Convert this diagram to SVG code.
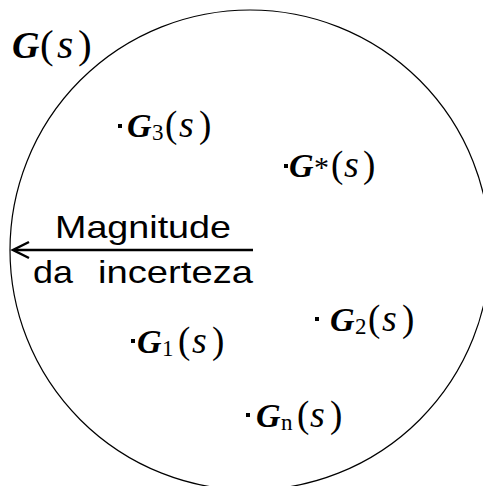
<svg xmlns="http://www.w3.org/2000/svg" width="483" height="486" viewBox="0 0 483 486">
<style>
.m{font-family:"Liberation Serif","DejaVu Serif",serif;font-size:34px;fill:#000}
.g{font-style:italic;font-weight:bold}
.s{font-style:italic;font-size:38px}
.p{font-size:37px}
.sub{font-size:23px}
.lbl{font-family:"Liberation Sans",Arial,sans-serif;font-size:32px;fill:#000}
.dot{fill:#000}
</style>
<rect width="483" height="486" fill="#fff"/>
<g id="set">
<circle cx="250" cy="250" r="240" fill="none" stroke="#000" stroke-width="1.2"/>
<text class="m" y="58" style="font-size:38px"><tspan class="g" x="12">G</tspan><tspan x="40" style="font-size:41px">(</tspan><tspan class="s" x="57" style="font-size:42px">s</tspan><tspan x="78" style="font-size:41px">)</tspan></text>
</g>
<g id="connectors">
<line x1="253" y1="250" x2="14" y2="250" stroke="#000" stroke-width="2.5"/>
<path d="M29,242 L13,250 L29,258" fill="none" stroke="#000" stroke-width="2.5"/>
</g>
<g id="label">
<text class="lbl" x="55" y="238" textLength="176" lengthAdjust="spacingAndGlyphs">Magnitude</text>
<text class="lbl" x="33" y="283" textLength="40" lengthAdjust="spacingAndGlyphs">da</text>
<text class="lbl" x="98" y="283" textLength="155" lengthAdjust="spacingAndGlyphs">incerteza</text>
</g>
<g id="G3">
<rect class="dot" x="118" y="124" width="4" height="4"/>
<text class="m" y="137"><tspan class="g" x="127">G</tspan><tspan class="sub" x="152" dy="3">3</tspan><tspan class="p" x="165" dy="-3">(</tspan><tspan class="s" x="179">s</tspan><tspan class="p" x="199">)</tspan></text>
</g>
<g id="Gstar">
<rect class="dot" x="284" y="164" width="4" height="4"/>
<text class="m" y="177"><tspan class="g" x="289">G</tspan><tspan x="314" style="font-size:30px">*</tspan><tspan class="p" x="331">(</tspan><tspan class="s" x="344">s</tspan><tspan class="p" x="363">)</tspan></text>
</g>
<g id="G2">
<rect class="dot" x="315" y="317" width="4" height="4"/>
<text class="m" y="331"><tspan class="g" x="330">G</tspan><tspan class="sub" x="355" dy="3">2</tspan><tspan class="p" x="368" dy="-3">(</tspan><tspan class="s" x="382">s</tspan><tspan class="p" x="402">)</tspan></text>
</g>
<g id="G1">
<rect class="dot" x="131" y="339" width="4" height="4"/>
<text class="m" y="353"><tspan class="g" x="137">G</tspan><tspan class="sub" x="162" dy="3">1</tspan><tspan class="p" x="178" dy="-3">(</tspan><tspan class="s" x="192">s</tspan><tspan class="p" x="212">)</tspan></text>
</g>
<g id="Gn">
<rect class="dot" x="246" y="413" width="4" height="4"/>
<text class="m" y="427"><tspan class="g" x="256">G</tspan><tspan class="sub" x="281" dy="3">n</tspan><tspan class="p" x="297" dy="-3">(</tspan><tspan class="s" x="310">s</tspan><tspan class="p" x="330">)</tspan></text>
</g>
</svg>
